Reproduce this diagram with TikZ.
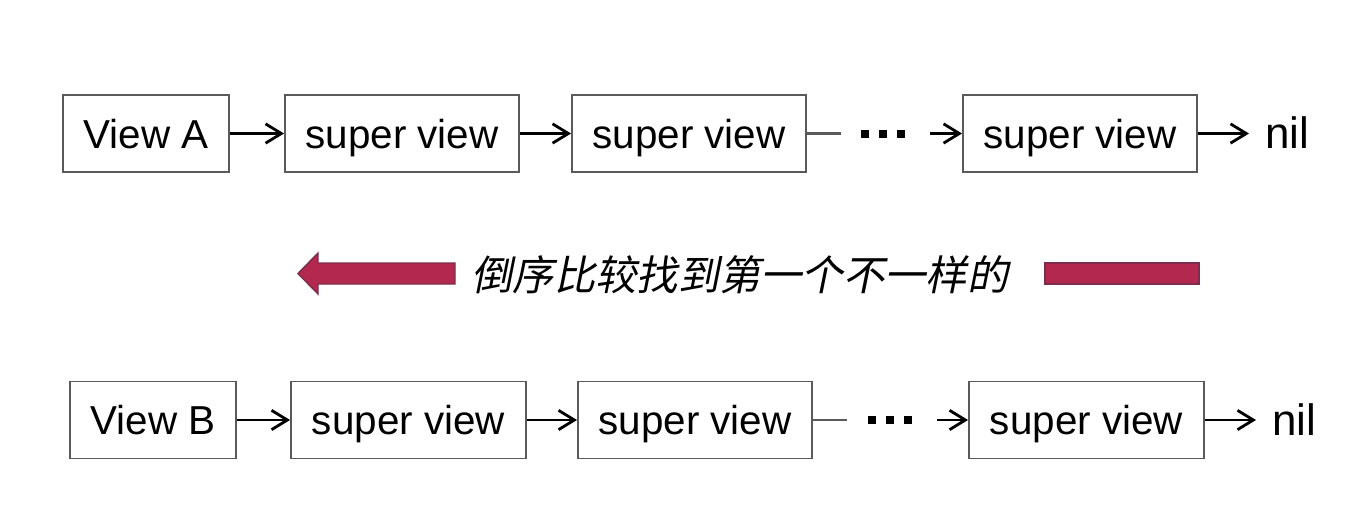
\documentclass[tikz,border=0pt]{standalone}
\usepackage{fontspec}
\setmainfont{Liberation Sans}
\newfontfamily\cjk[FakeSlant=0.2]{Noto Sans CJK SC}
\usetikzlibrary{arrows.meta}
\definecolor{crimson}{RGB}{178,40,78}
\definecolor{crimsonedge}{RGB}{125,45,75}
\definecolor{boxgray}{RGB}{90,90,90}

\newcommand{\sqdot}{\rule{0.16cm}{0.16cm}}

\tikzset{
  viewbox/.style={draw=boxgray, line width=1.1pt, minimum height=1.54cm,
    inner sep=0pt, text height=17pt, text depth=0.5pt,
    font=\fontsize{23pt}{27pt}\selectfont},
  endlabel/.style={anchor=west, inner sep=0pt, inner xsep=0.32cm,
    text height=18pt, text depth=0.5pt, font=\fontsize{25pt}{29pt}\selectfont},
  dotsmark/.style={inner sep=0pt},
  link/.style={line width=1.2pt, -{Straight Barb[length=9pt,width=11pt,line width=1.6pt]}},
  plain/.style={line width=1.2pt, draw=boxgray},
}

\begin{document}
\begin{tikzpicture}[x=0.02cm, y=-0.02cm]
  \useasboundingbox (0,0) rectangle (1352,512);

  % 第一行 View A
  \node[viewbox, minimum width=3.32cm] (A0) at (146,133.5) {View A};
  \node[viewbox, minimum width=4.68cm] (A1) at (402,133.5) {super view};
  \node[viewbox, minimum width=4.68cm] (A2) at (689,133.5) {super view};
  \node[viewbox, minimum width=4.68cm] (A3) at (1080,133.5) {super view};
  \node[dotsmark] (Adots) at (883,133.5) {\sqdot\hspace{0.2cm}\sqdot\hspace{0.2cm}\sqdot};
  \node[endlabel] (Anil) at (1249,133.5) {nil};
  \coordinate (Aend) at (841,133.5);
  \coordinate (Astart) at (930,133.5);

  \draw[link] (A0) -- (A1);
  \draw[link] (A1) -- (A2);
  \draw[plain] (A2) -- (Aend);
  \draw[link] (Astart) -- (A3);
  \draw[link] (A3) -- (Anil);

  % 第二行 View B
  \node[viewbox, minimum width=3.32cm] (B0) at (153,420) {View B};
  \node[viewbox, minimum width=4.70cm] (B1) at (408.5,420) {super view};
  \node[viewbox, minimum width=4.68cm] (B2) at (695,420) {super view};
  \node[viewbox, minimum width=4.70cm] (B3) at (1086.5,420) {super view};
  \node[dotsmark] (Bdots) at (890,420) {\sqdot\hspace{0.2cm}\sqdot\hspace{0.2cm}\sqdot};
  \node[endlabel] (Bnil) at (1256,420) {nil};
  \coordinate (Bend) at (847,420);
  \coordinate (Bstart) at (937,420);

  \draw[link] (B0) -- (B1);
  \draw[link] (B1) -- (B2);
  \draw[plain] (B2) -- (Bend);
  \draw[link] (Bstart) -- (B3);
  \draw[link] (B3) -- (Bnil);

  % 中间的说明
  \filldraw[fill=crimson, draw=crimsonedge, line width=0.8pt]
    (298,273.5) -- (318,253) -- (318,263) -- (455,263) -- (455,284)
    -- (318,284) -- (318,294) -- cycle;
  \node[font=\cjk\fontsize{23.5pt}{28pt}\selectfont] (note) at (740,275) {倒序比较找到第一个不一样的};
  \filldraw[fill=crimson, draw=crimsonedge, line width=0.8pt]
    (1045,263) rectangle (1199,284);
\end{tikzpicture}
\end{document}
